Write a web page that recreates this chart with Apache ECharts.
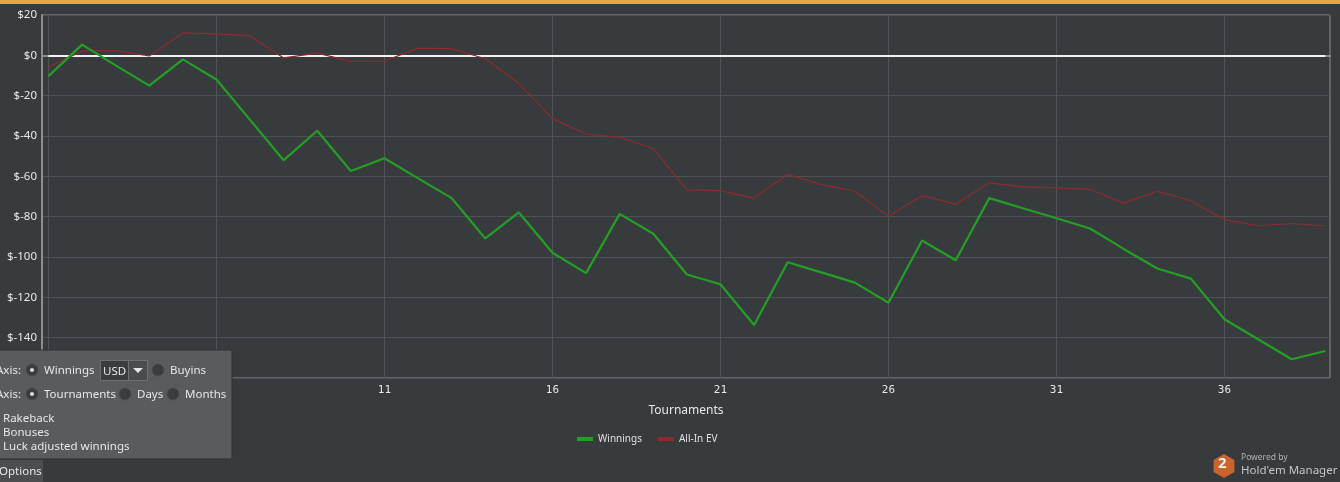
<!DOCTYPE html>
<html>
<head>
<meta charset="utf-8">
<script src="https://cdn.jsdelivr.net/npm/echarts@6/dist/echarts.min.js"></script>
<style>
html,body{margin:0;padding:0;background:#383b3e;}
#c{width:1340px;height:482px;}
</style>
</head>
<body>
<div id="c"></div>
<script>
// Tournament numbers 1..39
const tournaments = [1,2,3,4,5,6,7,8,9,10,11,12,13,14,15,16,17,18,19,20,21,22,23,24,25,26,27,28,29,30,31,32,33,34,35,36,37,38,39];
const winnings = [-10.3,5.3,-5,-15,-2,-12,-32,-52,-37.4,-57.4,-51,-61,-70.8,-90.8,-77.9,-97.9,-108,-78.6,-88.5,-108.7,-113.5,-133.7,-102.6,-107.6,-112.7,-122.7,-91.8,-101.6,-70.8,-75.8,-80.8,-85.9,-96,-105.7,-110.7,-130.9,-140.8,-150.7,-146.6];
const allInEV = [-5.8,2.1,2.3,-0.3,11.1,10.6,9.6,-1.3,1.1,-3,-2.8,3.6,3.3,-1.7,-14,-31.4,-39,-40.7,-46.3,-66.7,-67.1,-70.8,-59,-64,-67.4,-79.8,-69.6,-73.8,-63.2,-65.2,-65.7,-66.5,-73.3,-67.3,-72.1,-81.5,-84.5,-83.4,-84.5];
const xTickValues = [1,6,11,16,21,26,31,36];
const xLabelValues = [11,16,21,26,31,36];

const chart = echarts.init(document.getElementById('c'), null, {renderer:'canvas'});
const FONT = '"Noto Sans", "DejaVu Sans", sans-serif';
const panelText = (x, y, t, size) => ({
  type:'text', z:101, left:x, top:y - 5,
  style:{text:t, fill:'#e6e6e6', font: (size||11.5) + 'px ' + FONT}
});
const radio = (cx, cy, selected) => {
  const arr = [{type:'circle', z:101, shape:{cx:cx, cy:cy, r:6}, style:{fill:'#3a3c3e', stroke:'#4a4c4e', lineWidth:1}}];
  if (selected) arr.push({type:'circle', z:102, shape:{cx:cx, cy:cy, r:2}, style:{fill:'#d8d8d8'}});
  return arr;
};

chart.setOption({
  backgroundColor:'#383b3e',
  animation:false,
  grid:{left:42, right:10, top:15, bottom:104, show:true, borderColor:'#8a8c8e', borderWidth:1, backgroundColor:'transparent'},
  legend:{
    left:572, top:429, itemWidth:16, itemHeight:4, itemGap:16,
    icon:'rect',
    textStyle:{color:'#e0e0e0', fontSize:10, fontFamily:FONT},
    data:['Winnings','All-In EV']
  },
  xAxis:{
    type:'value', min:0.807, max:39.14,
    name:'Tournaments', nameLocation:'middle', nameGap:27,
    nameTextStyle:{color:'#e6e6e6', fontSize:12, fontFamily:FONT},
    axisLine:{show:true, lineStyle:{color:'#8a8c8e', width:2}},
    axisTick:{show:false, customValues:xTickValues},
    axisLabel:{color:'#e6e6e6', fontSize:11, fontFamily:'"DejaVu Sans Mono", monospace', margin:7, customValues:xLabelValues},
    splitLine:{show:true, lineStyle:{color:'#505357', width:1}}
  },
  yAxis:{
    type:'value', min:-160, max:20, interval:20,
    axisLine:{show:true, lineStyle:{color:'#8a8c8e', width:2}},
    axisTick:{show:false},
    axisLabel:{color:'#e6e6e6', fontSize:11.5, fontFamily:FONT, margin:5,
      formatter:v => '$' + v},
    splitLine:{show:true, lineStyle:{color:'#4d5054', width:1}}
  },
  series:[
    {
      name:'All-In EV', type:'line', symbol:'none', z:3,
      data:tournaments.map((t,i)=>[t, allInEV[i]]),
      lineStyle:{color:'#8e2a2c', width:1.2},
      itemStyle:{color:'#8e2a2c'},
      markLine:{
        silent:true, symbol:'none', z:2, label:{show:false},
        lineStyle:{color:'#f2f2f2', width:2.2, type:'solid'},
        data:[[{coord:[tournaments[0],0]},{coord:[tournaments[tournaments.length-1],0]}]]
      }
    },
    {
      name:'Winnings', type:'line', symbol:'none', z:4,
      data:tournaments.map((t,i)=>[t, winnings[i]]),
      lineStyle:{color:'#23a023', width:2.2},
      itemStyle:{color:'#23a023'}
    }
  ],
  graphic:[
    // top orange bar
    {type:'rect', z:100, shape:{x:0, y:0, width:1340, height:4}, style:{fill:'#e6a444'}},
    // options panel
    {type:'rect', z:100, shape:{x:-1, y:350, width:233, height:109}, style:{fill:'#595c5f', stroke:'#2e3032', lineWidth:1}},
    panelText(-4, 370, 'Axis:'),
    ...radio(32, 370, true),
    panelText(44, 370, 'Winnings'),
    {type:'rect', z:101, shape:{x:100.5, y:360.5, width:47, height:20}, style:{fill:'#3a3c3e', stroke:'#6e7174', lineWidth:1}},
    {type:'rect', z:102, shape:{x:128.5, y:360.5, width:19, height:20}, style:{fill:'#4a4c4f', stroke:'#6e7174', lineWidth:1}},
    {type:'polygon', z:103, shape:{points:[[133,368],[143,368],[138,373]]}, style:{fill:'#e6e6e6'}},
    panelText(103, 371, 'USD'),
    ...radio(158, 370, false),
    panelText(170, 370, 'Buyins'),
    panelText(-4, 394, 'Axis:'),
    ...radio(32, 394, true),
    panelText(44, 394, 'Tournaments'),
    ...radio(125, 394, false),
    panelText(137, 394, 'Days'),
    ...radio(173, 394, false),
    panelText(185, 394, 'Months'),
    panelText(3, 418, 'Rakeback'),
    panelText(3, 432, 'Bonuses'),
    panelText(3, 446, 'Luck adjusted winnings'),
    // options tab
    {type:'rect', z:100, shape:{x:0, y:460, width:43, height:22}, style:{fill:'#4b4d50'}},
    panelText(-1, 471, 'Options'),
    // logo
    {type:'polygon', z:100, shape:{points:[[1224,454],[1234.4,460],[1234.4,472],[1224,478],[1213.6,472],[1213.6,460]]}, style:{fill:'#c8642c'}},
    {type:'text', z:101, left:1218, top:456, style:{text:'2', fill:'#f4f4f4', font:'bold 15px ' + FONT}},
    {type:'text', z:101, left:1241, top:453, style:{text:'Powered by', fill:'#b0b0b0', font:'8.5px ' + FONT}},
    {type:'text', z:101, left:1241, top:465, style:{text:"Hold'em Manager", fill:'#c4c4c4', font:'11.5px ' + FONT}}
  ]
});
</script>
</body>
</html>
